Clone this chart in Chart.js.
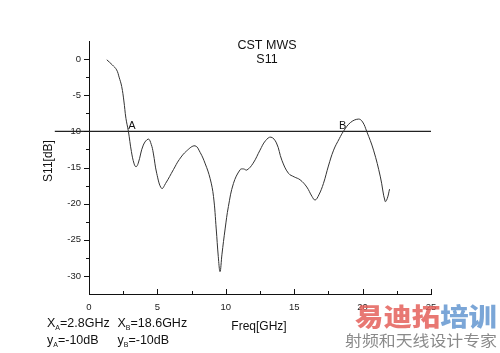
<!DOCTYPE html>
<html><head><meta charset="utf-8">
<script src="https://cdn.jsdelivr.net/npm/chart.js@4/dist/chart.umd.min.js"></script>
<style>html,body{margin:0;padding:0;background:#fff}#w{width:500px;height:353px;position:relative}</style>
</head><body><div id="w"><canvas id="c"></canvas></div>
<script>
// ---- data ----
const freq = [1.3, 1.7, 2.02, 2.2, 2.39, 2.55, 2.7, 2.88, 3.1, 3.3, 3.44, 3.6, 3.97, 4.34, 4.55, 4.7, 4.95, 5.31, 5.6, 6.17, 6.6, 7.14, 7.75, 8.12, 8.5, 8.85, 9.1, 9.3, 9.45, 9.58, 9.72, 9.95, 10.19, 10.56, 11.05, 11.3, 11.54, 12.0, 12.5, 12.9, 13.3, 13.7, 14.1, 14.58, 15.0, 15.43, 15.92, 16.3, 16.53, 16.8, 17.14, 17.5, 17.88, 18.3, 18.6, 19.1, 19.7, 20.0, 20.3, 20.8, 21.3, 21.65, 21.8, 21.97];
const s11  = [-0.1, -0.8, -1.5, -2.5, -3.8, -5.8, -8.2, -10.0, -12.8, -14.5, -14.9, -14.4, -11.9, -11.07, -11.8, -13.0, -15.8, -17.9, -17.2, -15.3, -13.9, -12.7, -12.0, -12.9, -14.5, -16.5, -19.0, -23.5, -27.3, -29.4, -27.0, -23.5, -20.4, -17.2, -15.3, -15.2, -15.35, -14.4, -12.6, -11.3, -10.8, -11.6, -14.0, -15.8, -16.3, -16.7, -17.7, -19.0, -19.5, -18.8, -17.2, -14.8, -12.6, -11.0, -10.0, -8.8, -8.3, -8.7, -10.0, -12.6, -16.3, -19.7, -19.3, -18.0];
const refLineX = [-2.5, 25];
const refLineY = [-10, -10];
const markerLabels = ['A', 'B'];
const markerX = [2.8, 18.6];
const markerY = [-10, -10];
const xTicks = [0, 5, 10, 15, 20, 25];
const xMinor = [2.5, 7.5, 12.5, 17.5, 22.5];
const yTicks = [0, -5, -10, -15, -20, -25, -30];
const yMinor = [-2.5, -7.5, -12.5, -17.5, -22.5, -27.5];
const titleLines = ['CST MWS', 'S11'];
const xTitle = 'Freq[GHz]';
const yTitle = 'S11[dB]';
const noteRows = [
  [['X', 'A', '=2.8GHz'], ['X', 'B', '=18.6GHz']],
  [['y', 'A', '=-10dB'], ['y', 'B', '=-10dB']]
];
const wmTop = [['易迪拓', 'rgba(228,96,90,0.85)'], ['培训', 'rgba(100,150,208,0.85)']];
const wmBottom = '射频和天线设计专家';

const FONT = '"Liberation Sans", Arial, sans-serif';

const decor = {
  id: 'decor',
  afterDraw(chart) {
    const ctx = chart.ctx, xs = chart.scales.x, ys = chart.scales.y;
    const ca = chart.chartArea;
    ctx.save();
    ctx.strokeStyle = '#111'; ctx.lineWidth = 1;
    ctx.beginPath();
    xTicks.forEach(v => { const p = Math.round(xs.getPixelForValue(v)) + 0.5; ctx.moveTo(p, ca.bottom); ctx.lineTo(p, ca.bottom - 5); });
    xMinor.forEach(v => { const p = Math.round(xs.getPixelForValue(v)) + 0.5; ctx.moveTo(p, ca.bottom); ctx.lineTo(p, ca.bottom - 3); });
    yTicks.forEach(v => { const p = Math.round(ys.getPixelForValue(v)) + 0.5; ctx.moveTo(ca.left, p); ctx.lineTo(ca.left - 5, p); });
    yMinor.forEach(v => { const p = Math.round(ys.getPixelForValue(v)) + 0.5; ctx.moveTo(ca.left, p); ctx.lineTo(ca.left - 3, p); });
    ctx.stroke();

    ctx.fillStyle = '#111';
    ctx.font = '12.5px ' + FONT; ctx.textAlign = 'center'; ctx.textBaseline = 'alphabetic';
    ctx.fillText(titleLines[0], 267, 48.5);
    ctx.fillText(titleLines[1], 267, 62.7);
    ctx.font = '12px ' + FONT;
    ctx.fillText(xTitle, 259, 330);
    ctx.save(); ctx.translate(51.5, 161); ctx.rotate(-Math.PI / 2); ctx.fillText(yTitle, 0, 0); ctx.restore();
    ctx.font = '11px ' + FONT;
    markerLabels.forEach((t, i) => {
      const px = xs.getPixelForValue(markerX[i]), py = ys.getPixelForValue(markerY[i]);
      if (i === 0) { ctx.textAlign = 'left'; ctx.fillText(t, px + 1, py - 2); }
      else { ctx.textAlign = 'right'; ctx.fillText(t, px + 3, py - 2); }
    });
    ctx.textAlign = 'left';
    const colX = [47, 117.5], rowY = [326.7, 344];
    noteRows.forEach((row, r) => row.forEach((cell, c) => {
      let x = colX[c];
      ctx.font = '12.5px ' + FONT; ctx.fillText(cell[0], x, rowY[r]); x += ctx.measureText(cell[0]).width;
      ctx.font = '7px ' + FONT; ctx.fillText(cell[1], x, rowY[r] + 3); x += ctx.measureText(cell[1]).width;
      ctx.font = '12.5px ' + FONT; ctx.fillText(cell[2], x, rowY[r]);
    }));
    ctx.font = '900 25px "Noto Sans CJK SC"';
    const full = wmTop.map(p => p[0]).join('');
    const w0 = ctx.measureText(full).width;
    ctx.save(); ctx.translate(355, 326); ctx.scale(142 / w0, 1);
    let wx = 0;
    wmTop.forEach(p => { ctx.fillStyle = p[1]; ctx.fillText(p[0], wx, 0); wx += ctx.measureText(p[0]).width; });
    ctx.restore();
    ctx.font = '15px "Noto Sans CJK SC"';
    const w1 = ctx.measureText(wmBottom).width;
    ctx.save(); ctx.translate(345, 346); ctx.scale(152 / w1, 1);
    ctx.fillStyle = '#8a8a8a'; ctx.fillText(wmBottom, 0, 0);
    ctx.restore();
    ctx.restore();
  }
};

new Chart(document.getElementById('c'), {
  type: 'line',
  data: {
    datasets: [
      { data: freq.map((f, i) => ({ x: f, y: s11[i] })), borderColor: '#333', borderWidth: 1, pointRadius: 0, tension: 0.4, fill: false },
      { data: refLineX.map((f, i) => ({ x: f, y: refLineY[i] })), borderColor: '#222', borderWidth: 1.2, pointRadius: 0, tension: 0, clip: false, fill: false }
    ]
  },
  options: {
    responsive: true, maintainAspectRatio: false, animation: false,
    layout: { padding: { left: 0, right: 69, top: 41, bottom: 0 } },
    plugins: { legend: { display: false }, tooltip: { enabled: false }, title: { display: false } },
    scales: {
      x: {
        type: 'linear', min: 0, max: 25,
        afterBuildTicks: s => { s.ticks = xTicks.map(v => ({ value: v })); },
        afterFit: s => { s.height = 59; },
        grid: { drawOnChartArea: false, drawTicks: false },
        border: { display: true, color: '#111', width: 1 },
        ticks: { padding: 8, color: '#222', font: { family: FONT, size: 9.5 }, maxRotation: 0, autoSkip: false }
      },
      y: {
        type: 'linear', min: -32.5, max: 2.5,
        afterBuildTicks: s => { s.ticks = yTicks.map(v => ({ value: v })); },
        afterFit: s => { s.width = 89; },
        grid: { drawOnChartArea: false, drawTicks: false },
        border: { display: true, color: '#111', width: 1 },
        ticks: { padding: 8, color: '#222', font: { family: FONT, size: 9.5 }, autoSkip: false }
      }
    }
  },
  plugins: [decor]
});
</script>
</body></html>
